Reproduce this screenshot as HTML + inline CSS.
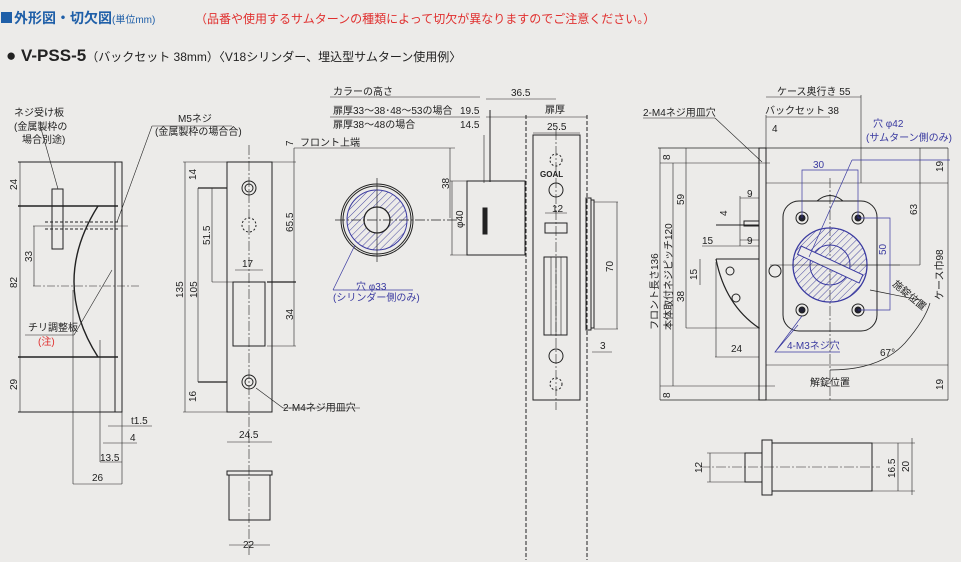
<!DOCTYPE html>
<html><head><meta charset="utf-8"><style>
html,body{margin:0;padding:0;background:#ecebe9;}
svg{display:block;font-family:"Liberation Sans","Noto Sans CJK JP",sans-serif;}
</style></head><body>
<svg width="961" height="562" viewBox="0 0 961 562" xmlns="http://www.w3.org/2000/svg">
<defs>
<pattern id="h" width="5" height="5" patternUnits="userSpaceOnUse" patternTransform="rotate(45)">
<line x1="0" y1="0" x2="0" y2="5" stroke="#4a4aa0" stroke-width="1"/></pattern>
</defs>
<rect width="961" height="562" fill="#ecebe9"/>
<!-- header -->
<rect x="1" y="12" width="11" height="11" fill="#1f5fa8"/>
<text x="14" y="23" font-size="14" fill="#1f5fa8" font-weight="bold">外形図・切欠図<tspan font-size="10" font-weight="normal">(単位mm)</tspan></text>
<text x="195" y="23" font-size="12" fill="#e0302f">（品番や使用するサムターンの種類によって切欠が異なりますのでご注意ください。）</text>
<text x="6" y="61" font-size="17" font-weight="bold" fill="#222">● V-PSS-5<tspan font-size="12" font-weight="normal">（バックセット 38mm）〈V18シリンダー、埋込型サムターン使用例〉</tspan></text>

<g stroke="#222" fill="none" stroke-width="1">
<!-- LEFT -->
<line x1="18" y1="162" x2="122" y2="162"/><line x1="18" y1="206" x2="118" y2="206" stroke-width="1.6"/>
<line x1="18" y1="357" x2="118" y2="357" stroke-width="1.6"/><line x1="18" y1="412" x2="122" y2="412"/>
<line x1="20" y1="162" x2="20" y2="412" stroke-width=".6"/>
<rect x="115" y="162" width="7" height="250"/>
<path d="M98 206 Q50 282 98 357" stroke-width="1.4"/>
<path d="M98 206 L115 206 M98 357 L115 357" stroke-dasharray="3 2"/>
<rect x="52" y="189" width="11" height="60"/>
<path d="M45 222 L118 222 M45 229 L118 229" stroke-dasharray="3 2"/>
<line x1="33" y1="226" x2="128" y2="226" stroke-width=".6"/>
<line x1="33" y1="286" x2="140" y2="286" stroke-dasharray="8 2 2 2" stroke-width=".6"/>
<line x1="34" y1="226" x2="34" y2="286" stroke-width=".6"/>
<line x1="73" y1="290" x2="73" y2="484" stroke-width=".6"/>
<line x1="100" y1="340" x2="100" y2="462" stroke-width=".6"/>
<line x1="122" y1="412" x2="122" y2="484" stroke-width=".6"/>
<line x1="73" y1="484" x2="122" y2="484" stroke-width=".6"/>
<line x1="100" y1="462" x2="122" y2="462" stroke-width=".6"/>
<line x1="103" y1="443" x2="137" y2="443" stroke-width=".6"/>
<line x1="108" y1="426" x2="152" y2="426" stroke-width=".6"/>
<line x1="40" y1="125" x2="58" y2="189" stroke-width=".6"/>
<line x1="152" y1="126" x2="232" y2="126" stroke-width=".6"/><line x1="152" y1="126" x2="117" y2="222" stroke-width=".6"/>
<line x1="25" y1="335" x2="74" y2="335" stroke-width=".6"/><line x1="74" y1="335" x2="112" y2="270" stroke-width=".6"/>
<!-- STRIKE -->
<rect x="227" y="162" width="45" height="250"/>
<line x1="249" y1="145" x2="249" y2="555" stroke-dasharray="10 2 2 2" stroke-width=".6"/>
<circle cx="249" cy="188" r="7"/><circle cx="249" cy="188" r="4"/>
<circle cx="249" cy="382" r="7"/><circle cx="249" cy="382" r="4"/>
<circle cx="249" cy="225" r="7" stroke-dasharray="2 2"/>
<rect x="233" y="282" width="32" height="64"/>
<line x1="235" y1="270" x2="263" y2="270" stroke-width=".6"/>
<line x1="183" y1="162" x2="227" y2="162" stroke-width=".6"/><line x1="183" y1="412" x2="227" y2="412" stroke-width=".6"/>
<line x1="185" y1="162" x2="185" y2="412" stroke-width=".6"/><line x1="198" y1="188" x2="198" y2="382" stroke-width=".6"/>
<line x1="198" y1="188" x2="227" y2="188" stroke-width="1.2"/><line x1="198" y1="382" x2="227" y2="382" stroke-width="1.2"/>
<line x1="212" y1="188" x2="212" y2="282" stroke-width=".6"/><line x1="212" y1="282" x2="233" y2="282" stroke-width=".6"/>
<line x1="294" y1="148" x2="294" y2="346" stroke-width=".6"/>
<line x1="267" y1="282" x2="296" y2="282" stroke-width="1.2"/><line x1="267" y1="346" x2="296" y2="346" stroke-width=".6"/>
<line x1="272" y1="162" x2="296" y2="162" stroke-width=".6"/>
<line x1="227" y1="442" x2="272" y2="442" stroke-width=".6"/>
<line x1="256" y1="388" x2="283" y2="408" stroke-width=".6"/><line x1="283" y1="408" x2="360" y2="408" stroke-width=".6"/>
<rect x="227" y="471" width="45" height="4"/><rect x="229" y="475" width="41" height="45"/>
<line x1="229" y1="545" x2="270" y2="545" stroke-width=".6"/>
<line x1="294" y1="148" x2="455" y2="148" stroke-width=".6"/>
<!-- CYLINDER FRONT -->
<circle cx="377" cy="220" r="36"/><circle cx="377" cy="220" r="34"/>
<circle cx="377" cy="220" r="30" fill="url(#h)" stroke="#3a3aa0"/>
<circle cx="377" cy="220" r="13" fill="#ecebe9" stroke="#222" stroke-width="1.3"/>
<line x1="335" y1="220" x2="460" y2="220" stroke-dasharray="10 2 2 2" stroke-width=".7"/>
<line x1="377" y1="178" x2="377" y2="262" stroke-width=".7"/>
<path d="M333 290 L355 245 M333 290 L413 290" stroke="#3a3aa0" stroke-width=".7"/>
<!-- SIDE -->
<path d="M467 181 L525 181 L525 255 L467 255 Z"/>
<path d="M490 182 L490 110"/><path d="M484 183 L484 135" stroke-width=".6"/>
<rect x="483" y="208" width="4" height="26" fill="#222"/>
<line x1="450" y1="181" x2="467" y2="181" stroke-width=".6"/><line x1="450" y1="255" x2="467" y2="255" stroke-width=".6"/>
<line x1="452" y1="181" x2="452" y2="255" stroke-width=".6"/>
<line x1="450" y1="148" x2="450" y2="218" stroke-width=".6"/>
<line x1="526" y1="115" x2="526" y2="560" stroke-dasharray="4 2"/>
<line x1="587" y1="115" x2="587" y2="560" stroke-dasharray="4 2"/>
<rect x="533" y="135" width="47" height="265"/>
<line x1="556" y1="130" x2="556" y2="410" stroke-dasharray="10 2 2 2" stroke-width=".6"/>
<rect x="545" y="223" width="22" height="10"/>
<rect x="544" y="257" width="23" height="78"/>
<path d="M551 257V335M556 257V335M561 257V335" stroke-width=".6"/>
<circle cx="556" cy="190" r="7"/><circle cx="556" cy="356" r="7"/>
<circle cx="556" cy="160" r="6" stroke-dasharray="2 2"/><circle cx="556" cy="384" r="6" stroke-dasharray="2 2"/>
<rect x="586" y="198" width="5" height="132"/><rect x="591" y="200" width="3" height="128"/>
<line x1="594" y1="202" x2="618" y2="202" stroke-width=".6"/><line x1="594" y1="329" x2="618" y2="329" stroke-width=".6"/>
<line x1="617" y1="202" x2="617" y2="329" stroke-width=".6"/>
<line x1="592" y1="352" x2="612" y2="352" stroke-width=".6"/>
<line x1="330" y1="97" x2="480" y2="97" stroke-width=".6"/><line x1="330" y1="117" x2="480" y2="117" stroke-width=".6"/>
<line x1="486" y1="99" x2="556" y2="99" stroke-width=".6"/>
<line x1="486" y1="117" x2="587" y2="117" stroke-width=".6"/>
<line x1="533" y1="133" x2="580" y2="133" stroke-width=".6"/>
<line x1="545" y1="213" x2="567" y2="213" stroke-width=".6"/>
<!-- RIGHT -->
<rect x="759" y="148" width="7" height="252"/>
<line x1="658" y1="148" x2="948" y2="148" stroke-width=".7"/><line x1="660" y1="400" x2="948" y2="400" stroke-width=".7"/>
<line x1="660" y1="148" x2="660" y2="400" stroke-width=".6"/><line x1="673" y1="163" x2="673" y2="386" stroke-width=".6"/>
<line x1="660" y1="163" x2="770" y2="163" stroke-width=".6"/><line x1="660" y1="386" x2="775" y2="386" stroke-width=".6"/>
<line x1="686" y1="148" x2="686" y2="328" stroke-width=".6"/>
<line x1="686" y1="328" x2="760" y2="328" stroke-width=".6"/>
<line x1="766" y1="183" x2="948" y2="183" stroke-width=".6"/><line x1="766" y1="365" x2="948" y2="365" stroke-width=".6"/>
<line x1="766" y1="115" x2="766" y2="148" stroke-width=".6"/><line x1="861" y1="95" x2="861" y2="183" stroke-width=".6"/>
<line x1="766" y1="97" x2="861" y2="97" stroke-width=".6"/><line x1="766" y1="117" x2="830" y2="117" stroke-width=".6"/>
<line x1="948" y1="148" x2="948" y2="400" stroke-width=".6"/><line x1="920" y1="148" x2="920" y2="265" stroke-width=".6"/>
<line x1="861" y1="265" x2="920" y2="265" stroke-width=".6"/>
<path d="M817 201 Q830 190 843 201"/>
<rect x="783" y="201" width="94" height="130" rx="16"/>
<line x1="830" y1="178" x2="830" y2="400" stroke-dasharray="10 2 2 2" stroke-width=".6"/>
<circle cx="830" cy="265" r="37" fill="url(#h)" stroke="#3a3aa0" stroke-width="1.3"/>
<circle cx="830" cy="265" r="20" stroke="#3a3aa0"/>
<g transform="rotate(25 830 265)"><rect x="796" y="260" width="68" height="9" fill="#ecebe9" stroke="#3a3aa0"/></g>
<line x1="770" y1="265" x2="900" y2="265" stroke-width=".6"/>
<circle cx="775" cy="271" r="6"/>
<g fill="#223"><circle cx="802" cy="218" r="3"/><circle cx="858" cy="218" r="3"/><circle cx="802" cy="310" r="3"/><circle cx="858" cy="310" r="3"/></g>
<g><circle cx="802" cy="218" r="6"/><circle cx="858" cy="218" r="6"/><circle cx="802" cy="310" r="6"/><circle cx="858" cy="310" r="6"/></g>
<g stroke="#3a3aa0" stroke-width=".7">
<path d="M802 218 V170 H858 V218"/><path d="M858 218 H890 V310 H858"/>
<path d="M852 160 L809 257 M852 160 L950 160 M798 325 L775 352 L840 352 M775 352 L802 316"/>
</g>
<path d="M716 259 Q725 305 759 328" stroke-width="1.2"/>
<path d="M716 259 H759 M716 225 H759"/>
<circle cx="730" cy="271" r="4"/><circle cx="736" cy="298" r="4"/>
<rect x="744" y="221" width="15" height="5"/>
<path d="M830 370 Q880 370 905 343 Q925 320 930 303 M870 290 L920 300" stroke-width=".7"/>
<line x1="715" y1="357" x2="759" y2="357" stroke-width=".6"/><line x1="716" y1="262" x2="716" y2="357" stroke-width=".6"/>
<line x1="702" y1="246" x2="759" y2="246" stroke-width=".6"/><line x1="740" y1="196" x2="740" y2="246" stroke-width=".6"/>
<line x1="740" y1="198" x2="759" y2="198" stroke-width=".6"/><line x1="740" y1="240" x2="759" y2="240" stroke-width=".6"/>
<line x1="700" y1="259" x2="700" y2="285" stroke-width=".6"/>
<line x1="643" y1="118" x2="715" y2="118" stroke-width=".6"/><line x1="715" y1="118" x2="762" y2="162" stroke-width=".6"/>
<!-- bottom right -->
<rect x="762" y="440" width="10" height="55"/>
<rect x="772" y="443" width="100" height="48"/>
<rect x="745" y="453" width="17" height="29"/>
<line x1="700" y1="467" x2="880" y2="467" stroke-dasharray="10 2 2 2" stroke-width=".6"/>
<line x1="707" y1="453" x2="745" y2="453" stroke-width=".6"/><line x1="707" y1="482" x2="745" y2="482" stroke-width=".6"/>
<line x1="710" y1="453" x2="710" y2="482" stroke-width=".6"/>
<line x1="872" y1="443" x2="915" y2="443" stroke-width=".6"/><line x1="872" y1="491" x2="915" y2="491" stroke-width=".6"/>
<line x1="898" y1="443" x2="898" y2="491" stroke-width=".6"/><line x1="912" y1="438" x2="912" y2="495" stroke-width=".6"/>
</g>

<g font-size="10" fill="#222">
<text x="14" y="116">ネジ受け板</text><text x="14" y="130">(金属製枠の</text><text x="22" y="143">場合別途)</text>
<text x="178" y="122">M5ネジ</text><text x="155" y="135">(金属製枠の場合合)</text>
<text x="28" y="331">チリ調整板</text><text x="38" y="345" fill="#e0302f">(注)</text>
<text transform="translate(17,190) rotate(-90)">24</text>
<text transform="translate(17,288) rotate(-90)">82</text>
<text transform="translate(17,390) rotate(-90)">29</text>
<text transform="translate(32,262) rotate(-90)">33</text>
<text x="131" y="424">t1.5</text><text x="130" y="441">4</text><text x="100" y="461">13.5</text><text x="92" y="481">26</text>
<text transform="translate(183,298) rotate(-90)">135</text>
<text transform="translate(197,298) rotate(-90)">105</text>
<text transform="translate(196,180) rotate(-90)">14</text>
<text transform="translate(210,245) rotate(-90)">51.5</text>
<text transform="translate(196,402) rotate(-90)">16</text>
<text transform="translate(293,232) rotate(-90)">65.5</text>
<text transform="translate(293,320) rotate(-90)">34</text>
<text transform="translate(293,146) rotate(-90)">7</text>
<text x="242" y="267">17</text><text x="239" y="438">24.5</text><text x="243" y="548">22</text>
<text x="283" y="411">2-M4ネジ用皿穴</text>
<text x="300" y="146">フロント上端</text>
<text x="333" y="95">カラーの高さ</text>
<text x="333" y="114">扉厚33～38･48～53の場合</text><text x="460" y="114">19.5</text>
<text x="333" y="128">扉厚38～48の場合</text><text x="460" y="128">14.5</text>
<text x="511" y="96">36.5</text><text x="545" y="113">扉厚</text><text x="547" y="130">25.5</text>
<text transform="translate(449,189) rotate(-90)">38</text>
<text transform="translate(463,228) rotate(-90)">φ40</text>
<text x="552" y="212">12</text>
<text transform="translate(613,272) rotate(-90)">70</text>
<text x="600" y="349">3</text>
<text x="540" y="177" font-size="8" font-weight="bold">GOAL</text>
<text x="356" y="290" fill="#3a3aa0">穴 φ33</text><text x="333" y="301" fill="#3a3aa0">(シリンダー側のみ)</text>
<text x="777" y="95">ケース奥行き 55</text><text x="765" y="114">バックセット 38</text>
<text x="643" y="116">2-M4ネジ用皿穴</text>
<text x="772" y="132">4</text>
<text x="873" y="127" fill="#3a3aa0">穴 φ42</text><text x="866" y="141" fill="#3a3aa0">(サムターン側のみ)</text>
<text x="813" y="168" fill="#3a3aa0">30</text>
<text transform="translate(886,255) rotate(-90)" fill="#3a3aa0">50</text>
<text transform="translate(943,172) rotate(-90)">19</text>
<text transform="translate(943,390) rotate(-90)">19</text>
<text transform="translate(917,215) rotate(-90)">63</text>
<text transform="translate(943,300) rotate(-90)">ケース巾98</text>
<text transform="translate(670,160) rotate(-90)">8</text>
<text transform="translate(670,398) rotate(-90)">8</text>
<text transform="translate(684,205) rotate(-90)">59</text>
<text transform="translate(684,302) rotate(-90)">38</text>
<text transform="translate(658,330) rotate(-90)">フロント長さ136</text>
<text transform="translate(672,330) rotate(-90)">本体取付ネジピッチ120</text>
<text x="747" y="197">9</text><text x="747" y="244">9</text>
<text transform="translate(727,216) rotate(-90)">4</text>
<text x="702" y="244">15</text>
<text transform="translate(697,280) rotate(-90)">15</text>
<text x="731" y="352">24</text>
<text x="787" y="349" fill="#3a3aa0">4-M3ネジ穴</text>
<text x="880" y="356">67°</text>
<text x="810" y="386">解錠位置</text>
<text transform="translate(892,285) rotate(40)">施錠位置</text>
<text transform="translate(702,473) rotate(-90)">12</text>
<text transform="translate(895,478) rotate(-90)">16.5</text>
<text transform="translate(909,472) rotate(-90)">20</text>
</g>
</svg>
</body></html>
